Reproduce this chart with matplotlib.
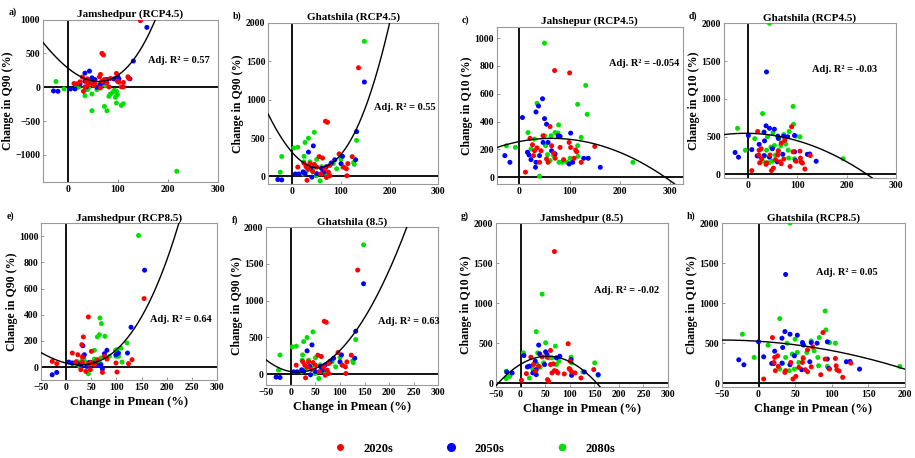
import numpy as np
import matplotlib
matplotlib.use("Agg")
import matplotlib.pyplot as plt
from matplotlib.lines import Line2D

plt.rcParams['font.family'] = ['Liberation Serif', 'DejaVu Serif']
plt.rcParams['font.weight'] = 'bold'

# ---- data: (change in Pmean %, change in Q %) ----
# a) Jamshedpur RCP4.5, Q90
jam45_q90_2020s = [(145, 985), (68, 502), (71, 478), (12, 55), (24, 80), (29, 150), (34, 5), (37, 90),
                   (41, 40), (44, 75), (54, 65), (63, 154), (65, 190), (68, 90), (73, 115), (78, 65),
                   (85, 130), (97, 204), (99, 90), (102, 75), (107, 5), (111, 5), (111, 70), (120, 154),
                   (122, 130), (31, -60), (18, 50), (39, 124), (52, 25), (82, 5), (65, -10)]
jam45_q90_2050s = [(-29, -55), (-20, -60), (5, -25), (14, -25), (24, 50), (34, 209), (43, 239), (48, 139),
                   (54, 114), (58, 0), (65, 40), (78, 114), (92, 124), (100, 154), (102, 124), (124, 124),
                   (131, 388), (158, 886), (37, 5), (50, 55), (34, 90), (71, 75)]
jam45_q90_2080s = [(-24, 85), (-8, -25), (17, 25), (34, -124), (39, -35), (48, -100), (48, -348), (58, -35),
                   (65, 5), (73, -284), (78, -348), (82, -134), (85, -100), (90, -75), (93, -45), (97, -60),
                   (95, -149), (97, -234), (99, -109), (107, -269), (111, -244), (218, -1244), (21, 0),
                   (41, -10), (75, 25), (63, 40)]

# b) and f) Ghatshila, Q90 (same scatter in both panels)
gha_q90_2020s = [(136, 1416), (68, 719), (72, 706), (55, 258), (62, 240), (123, 258), (11, 122), (30, -50),
                 (28, 127), (36, 167), (50, 122), (67, 100), (74, 54), (77, 145), (96, 294), (105, 122),
                 (111, 100), (114, 167), (112, 9), (24, 172), (42, 63), (58, 32), (70, -14), (45, 158),
                 (77, 9), (33, 95)]
gha_q90_2050s = [(148, 1230), (132, 584), (130, 217), (-30, -40), (-22, -45), (33, 317), (43, 398), (22, 59),
                 (26, 36), (40, -9), (50, 36), (60, 104), (70, 127), (80, 176), (87, 217), (103, 262),
                 (100, 167), (6, 32), (13, 32), (64, 54), (38, 104)]
gha_q90_2080s = [(148, 1760), (132, 470), (-22, 260), (-25, 55), (3, 371), (11, 380), (26, 443), (33, 498),
                 (45, 575), (23, 190), (24, 262), (36, 190), (45, 122), (50, 222), (60, 127), (30, 77),
                 (40, 77), (49, 9), (57, -59), (70, 32), (84, 167), (91, 100), (100, 226), (104, 122),
                 (126, 181), (127, 158), (23, 32), (60, 36)]

# c) Jamshedpur RCP4.5, Q10
jam45_q10_2020s = [(12, 36), (21, 279), (26, 233), (28, 155), (35, 210), (40, 107), (47, 298), (61, 364),
                   (70, 767), (100, 750), (64, 226), (68, 174), (71, 136), (81, 214), (88, 126), (99, 250),
                   (102, 214), (112, 195), (114, 183), (123, 107), (109, 136), (150, 221), (57, 107),
                   (43, 190), (54, 131), (30, 190)]
jam45_q10_2050s = [(6, 429), (46, 564), (38, 512), (33, 469), (50, 421), (54, 381), (57, 250), (16, 179),
                   (19, 160), (23, 126), (33, 107), (40, 155), (47, 250), (-29, 155), (-19, 107), (77, 298),
                   (81, 293), (102, 317), (99, 95), (106, 107), (128, 136), (137, 136), (161, 71), (64, 190),
                   (71, 167), (32, 71)]
jam45_q10_2080s = [(50, 964), (35, 531), (116, 524), (132, 660), (135, 452), (78, 376), (17, 321), (-26, 226),
                   (-8, 214), (71, 321), (77, 317), (123, 286), (116, 226), (117, 150), (101, 136), (85, 107),
                   (79, 107), (68, 155), (56, 162), (52, 226), (63, 298), (40, 7), (30, 274), (23, 202),
                   (95, 107), (226, 107), (50, 298), (61, 119)]

# d) and h) Ghatshila, Q10 (same scatter in both panels)
gha_q10_2020s = [(7, 50), (19, 568), (26, 340), (22, 320), (23, 154), (21, 257), (27, 207), (37, 154),
                 (36, 133), (44, 257), (47, 50), (51, 83), (55, 195), (60, 257), (61, 307), (64, 166),
                 (67, 141), (67, 415), (72, 203), (85, 104), (88, 631), (91, 299), (97, 174), (105, 307),
                 (106, 216), (107, 166), (110, 149), (115, 71), (126, 249), (74, 452)]
gha_q10_2050s = [(37, 1357), (0, 515), (-27, 290), (-20, 228), (7, 328), (36, 643), (43, 610), (53, 598),
                 (32, 560), (22, 398), (18, 245), (21, 245), (32, 249), (43, 228), (33, 444), (49, 340),
                 (60, 506), (61, 477), (72, 506), (80, 498), (94, 515), (96, 183), (70, 266), (59, 166),
                 (120, 266), (125, 270), (138, 174), (94, 299)]
gha_q10_2080s = [(43, 2000), (29, 805), (91, 900), (92, 664), (-22, 610), (-6, 320), (13, 473), (39, 498),
                 (83, 568), (72, 527), (62, 473), (66, 382), (76, 402), (81, 320), (82, 216), (50, 548),
                 (46, 361), (53, 382), (55, 257), (42, 154), (29, 174), (49, 174), (105, 498), (97, 506),
                 (94, 207), (193, 207), (37, 320), (61, 320), (33, 245)]

# e) Jamshedpur RCP8.5, Q90
jam85_q90_2020s = [(-28, 43), (-19, 26), (44, 383), (34, 230), (31, 171), (12, 107), (23, 94), (32, 77),
                   (32, 36), (29, -20), (39, -33), (50, 120), (49, 36), (48, -20), (56, 18), (62, 56),
                   (72, -41), (76, 82), (81, 61), (99, 31), (101, -38), (124, 26), (131, 56), (155, 523),
                   (19, 38), (44, 23)]
jam85_q90_2050s = [(-28, -59), (-19, -41), (156, 740), (129, 304), (122, 107), (33, 163), (36, 94), (34, 82),
                   (5, 38), (12, 31), (29, 18), (46, 36), (54, 31), (69, 18), (76, 102), (81, 128),
                   (72, -15), (61, 13), (41, 5), (23, 26), (99, 94), (104, 107)]
jam85_q90_2080s = [(144, 1005), (67, 375), (70, 332), (66, 247), (62, 230), (77, 235), (86, 82), (98, 128),
                   (101, 133), (99, 82), (109, 145), (121, 184), (104, 82), (111, 38), (12, 26), (21, 43),
                   (30, 43), (35, 61), (44, -51), (49, 26), (56, 61), (62, 31), (68, 26), (69, 69),
                   (56, 128), (27, 5), (39, 36)]

# g) Jamshedpur RCP8.5, Q10
jam85_q10_2020s = [(69, 1644), (97, 491), (2, 34), (12, 117), (21, 323), (26, 231), (30, 147), (37, 210),
                   (44, 327), (54, 323), (61, 231), (67, 239), (69, 155), (73, 147), (76, 126), (64, 126),
                   (55, 42), (57, 21), (89, 113), (99, 180), (101, 168), (104, 138), (111, 126), (123, 63),
                   (149, 168), (101, 273), (61, 407)]
jam85_q10_2050s = [(7, 344), (-17, 126), (-28, 138), (14, 201), (18, 210), (25, 126), (32, 105), (39, 365),
                   (37, 474), (51, 390), (54, 356), (49, 231), (73, 315), (80, 335), (103, 294), (104, 96),
                   (130, 138), (158, 105), (30, 273), (32, 168)]
jam85_q10_2080s = [(44, 1111), (32, 642), (51, 503), (71, 461), (64, 315), (58, 315), (35, 377), (33, 239),
                   (25, 176), (18, 63), (6, 377), (-22, 84), (-29, 55), (-29, 147), (103, 323), (104, 252),
                   (151, 252), (158, 96), (127, 138), (47, 252), (73, 231), (78, 273), (40, 197)]

# points read along each fitted curve, and polynomial degree of the fit
curve_a = [(-50, 660), (0, 290), (50, 80), (100, 190), (130, 390), (175, 1000)]
curve_b = [(-50, 810), (0, 320), (55, 100), (100, 290), (130, 600), (200, 2000)]
curve_c = [(-50, 207), (57, 279), (290, 0), (309, -48)]
curve_d = [(-50, 534), (0, 535), (100, 437), (200, 197), (237, 0)]
curve_e = [(-50, 120), (0, 15), (12, 5), (50, 40), (129, 300), (176, 530), (223, 1100)]
curve_f = [(-50, 190), (0, 40), (15, 30), (60, 100), (131, 580), (236, 2000)]
curve_g = [(-45, 0), (55, 335), (155, 0)]
curve_h = [(-50, 535), (0, 527), (100, 402), (200, 174)]

r2_labels = ['0.57', '0.55', '-0.054', '-0.03', '0.64', '0.63', '-0.02', '0.05']
titles = ['Jamshedpur (RCP4.5)', 'Ghatshila (RCP4.5)', 'Jahshepur (RCP4.5)', 'Ghatshila (RCP4.5)',
          'Jamshedpur (RCP8.5)', 'Ghatshila (8.5)', 'Jamshedpur (8.5)', 'Ghatshila (RCP8.5)']
letters = ['a)', 'b)', 'c)', 'd)', 'e)', 'f)', 'g)', 'h)']
ylabels = ['Change in Q90 (%)', 'Change in Q90 (%)', 'Change in Q10 (%)', 'Change in Q10 (%)',
           'Change in Q90 (%)', 'Change in Q90 (%)', 'Change in Q10 (%)', 'Change in Q10 (%)']
periods = ['2020s', '2050s', '2080s']
colors = {'2020s': '#ff0000', '2050s': '#0000ff', '2080s': '#00e000'}

panels = [
    dict(data=(jam45_q90_2020s, jam45_q90_2050s, jam45_q90_2080s), curve=curve_a, deg=3,
         pos=[0.047, 0.603, 0.191, 0.354], xlim=(-50, 300), ylim=(-1400, 1000),
         xt=[0, 100, 200, 300], yt=[-1000, -500, 0, 500, 1000], txt=(160, 390)),
    dict(data=(gha_q90_2020s, gha_q90_2050s, gha_q90_2080s), curve=curve_b, deg=3,
         pos=[0.293, 0.598, 0.186, 0.352], xlim=(-50, 300), ylim=(-100, 2000),
         xt=[0, 100, 200, 300], yt=[0, 500, 1000, 1500, 2000], txt=(167, 900)),
    dict(data=(jam45_q10_2020s, jam45_q10_2050s, jam45_q10_2080s), curve=curve_c, deg=2,
         pos=[0.543, 0.598, 0.203, 0.343], xlim=(-45, 325), ylim=(-50, 1080),
         xt=[0, 100, 200, 300], yt=[0, 200, 400, 600, 800, 1000], txt=(178, 815)),
    dict(data=(gha_q10_2020s, gha_q10_2050s, gha_q10_2080s), curve=curve_d, deg=2,
         pos=[0.791, 0.611, 0.188, 0.338], xlim=(-50, 300), ylim=(-50, 2000),
         xt=[0, 100, 200, 300], yt=[0, 500, 1000, 1500, 2000], txt=(130, 1390)),
    dict(data=(jam85_q90_2020s, jam85_q90_2050s, jam85_q90_2080s), curve=curve_e, deg=3,
         pos=[0.045, 0.170, 0.192, 0.343], xlim=(-50, 300), ylim=(-100, 1100),
         xt=[-50, 0, 50, 100, 150, 200, 250, 300], yt=[0, 200, 400, 600, 800, 1000], txt=(166, 362)),
    dict(data=(gha_q90_2020s, gha_q90_2050s, gha_q90_2080s), curve=curve_f, deg=3,
         pos=[0.291, 0.159, 0.188, 0.345], xlim=(-50, 300), ylim=(-150, 2000),
         xt=[-50, 0, 50, 100, 150, 200, 250, 300], yt=[0, 500, 1000, 1500, 2000], txt=(177, 710)),
    dict(data=(jam85_q10_2020s, jam85_q10_2050s, jam85_q10_2080s), curve=curve_g, deg=2,
         pos=[0.542, 0.155, 0.188, 0.358], xlim=(-50, 300), ylim=(-50, 2000),
         xt=[-50, 0, 50, 100, 150, 200, 250, 300], yt=[0, 500, 1000, 1500, 2000], txt=(150, 1160)),
    dict(data=(gha_q10_2020s, gha_q10_2050s, gha_q10_2080s), curve=curve_h, deg=2,
         pos=[0.789, 0.155, 0.200, 0.358], xlim=(-50, 200), ylim=(-50, 2000),
         xt=[-50, 0, 50, 100, 150, 200], yt=[0, 500, 1000, 1500, 2000], txt=(78, 1386)),
]

fig = plt.figure(figsize=(9.15, 4.58), dpi=100)

for i, p in enumerate(panels):
    ax = fig.add_axes(p['pos'])
    # draw 2080s first so 2020s ends up on top
    for period, pts in reversed(list(zip(periods, p['data']))):
        pts = np.array(pts, dtype=float)
        ax.scatter(pts[:, 0], pts[:, 1], s=13, color=colors[period], edgecolors='none', zorder=3)

    cx, cy = np.array(p['curve'], dtype=float).T
    coef = np.polyfit(cx, cy, p['deg'])
    xx = np.linspace(p['xlim'][0], p['xlim'][1], 300)
    ax.plot(xx, np.polyval(coef, xx), color='black', lw=1.0, zorder=4)

    ax.axhline(0, color='black', lw=1.3, zorder=2)
    ax.axvline(0, color='black', lw=1.3, zorder=2)

    ax.set_xlim(p['xlim'])
    ax.set_ylim(p['ylim'])
    ax.set_xticks(p['xt'])
    ax.set_yticks(p['yt'])
    ax.tick_params(direction='in', length=2, width=0.6, labelsize=7, pad=2, color='#888888')
    for lab in ax.get_xticklabels() + ax.get_yticklabels():
        lab.set_fontweight('bold')
    for sp in ax.spines.values():
        sp.set_color('#999999')
        sp.set_linewidth(0.8)

    ax.set_title(titles[i], fontsize=8, fontweight='bold', pad=2)
    ax.set_ylabel(ylabels[i], fontsize=8.5, fontweight='bold', labelpad=1)
    if i >= 4:
        ax.set_xlabel('Change in Pmean (%)', fontsize=9, fontweight='bold', labelpad=3)

    ax.text(p['txt'][0], p['txt'][1], 'Adj. R² = ' + r2_labels[i], fontsize=7.5,
            fontweight='bold', va='center', ha='left')

    fig.text(p['pos'][0] - 0.038, p['pos'][1] + p['pos'][3] + 0.005, letters[i],
             fontsize=7, fontweight='bold', va='bottom')

handles = [Line2D([], [], ls='none', marker='o', color=colors[k], markersize=ms)
           for k, ms in zip(periods, [4, 5.5, 4.5])]
fig.legend(handles, periods, loc='center', bbox_to_anchor=(0.515, 0.02), ncol=3, frameon=False,
           columnspacing=3.6, handletextpad=0.9, prop={'size': 9, 'weight': 'bold'})

fig.savefig('out.png', dpi=100)
